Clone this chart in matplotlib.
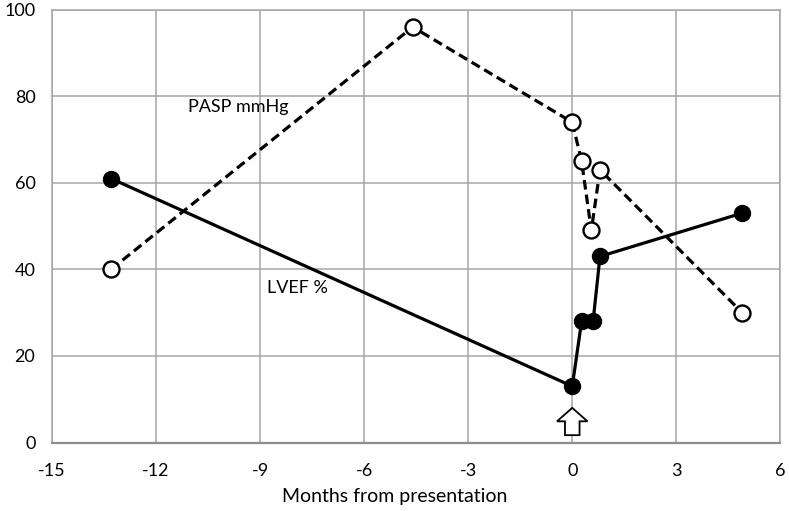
import matplotlib.pyplot as plt
from matplotlib.patches import FancyArrow

# Months from presentation
pasp_months = [-13.3, -4.6, 0.0, 0.27, 0.55, 0.8, 4.9]
pasp_values = [40, 96, 74, 65, 49, 63, 30]

lvef_months = [-13.3, 0.0, 0.27, 0.6, 0.8, 4.9]
lvef_values = [61, 13, 28, 28, 43, 53]

x_ticks = [-15, -12, -9, -6, -3, 0, 3, 6]
y_ticks = [0, 20, 40, 60, 80, 100]

plt.rcParams['font.family'] = ['Lato', 'DejaVu Sans']
plt.rcParams['axes.unicode_minus'] = False

fig = plt.figure(figsize=(7.89, 5.11), dpi=100)
ax = fig.add_axes([0.066, 0.134, 0.923, 0.847])

grid_color = "#a6a6a6"

ax.plot(pasp_months, pasp_values, color="black", linestyle=(0, (3, 1.6)), linewidth=2.3,
        marker="o", markersize=11.5, markerfacecolor="white", markeredgecolor="black",
        markeredgewidth=1.7, zorder=3)
ax.plot(lvef_months, lvef_values, color="black", linestyle="-", linewidth=2.3,
        marker="o", markersize=11.5, markerfacecolor="black", markeredgecolor="black",
        zorder=4)

# presentation arrow
ax.add_patch(FancyArrow(0, 1.7, 0, 6.3, width=0.42, head_width=0.88, head_length=3.1,
                        length_includes_head=True, facecolor="white", edgecolor="black",
                        linewidth=1.3, zorder=5))

ax.text(-11.08, 77.6, "PASP mmHg", fontsize=13, va="center", ha="left")
ax.text(-8.81, 35.7, "LVEF %", fontsize=13, va="center", ha="left")

ax.set_xlim(-15, 6)
ax.set_ylim(0, 100)
ax.set_xticks(x_ticks)
ax.set_yticks(y_ticks)
ax.tick_params(axis="both", length=0, labelsize=13)
ax.tick_params(axis="x", pad=15)
ax.tick_params(axis="y", pad=12)
ax.grid(True, color=grid_color, linewidth=1.1)
ax.set_axisbelow(True)

for side in ["top", "right", "left"]:
    ax.spines[side].set_color(grid_color)
    ax.spines[side].set_linewidth(1.1)
ax.spines["bottom"].set_color("#8c8c8c")
ax.spines["bottom"].set_linewidth(1.6)

ax.set_xlabel("Months from presentation", fontsize=14)
ax.xaxis.set_label_coords(0.471, -0.104)

fig.savefig("out.png", dpi=100)
